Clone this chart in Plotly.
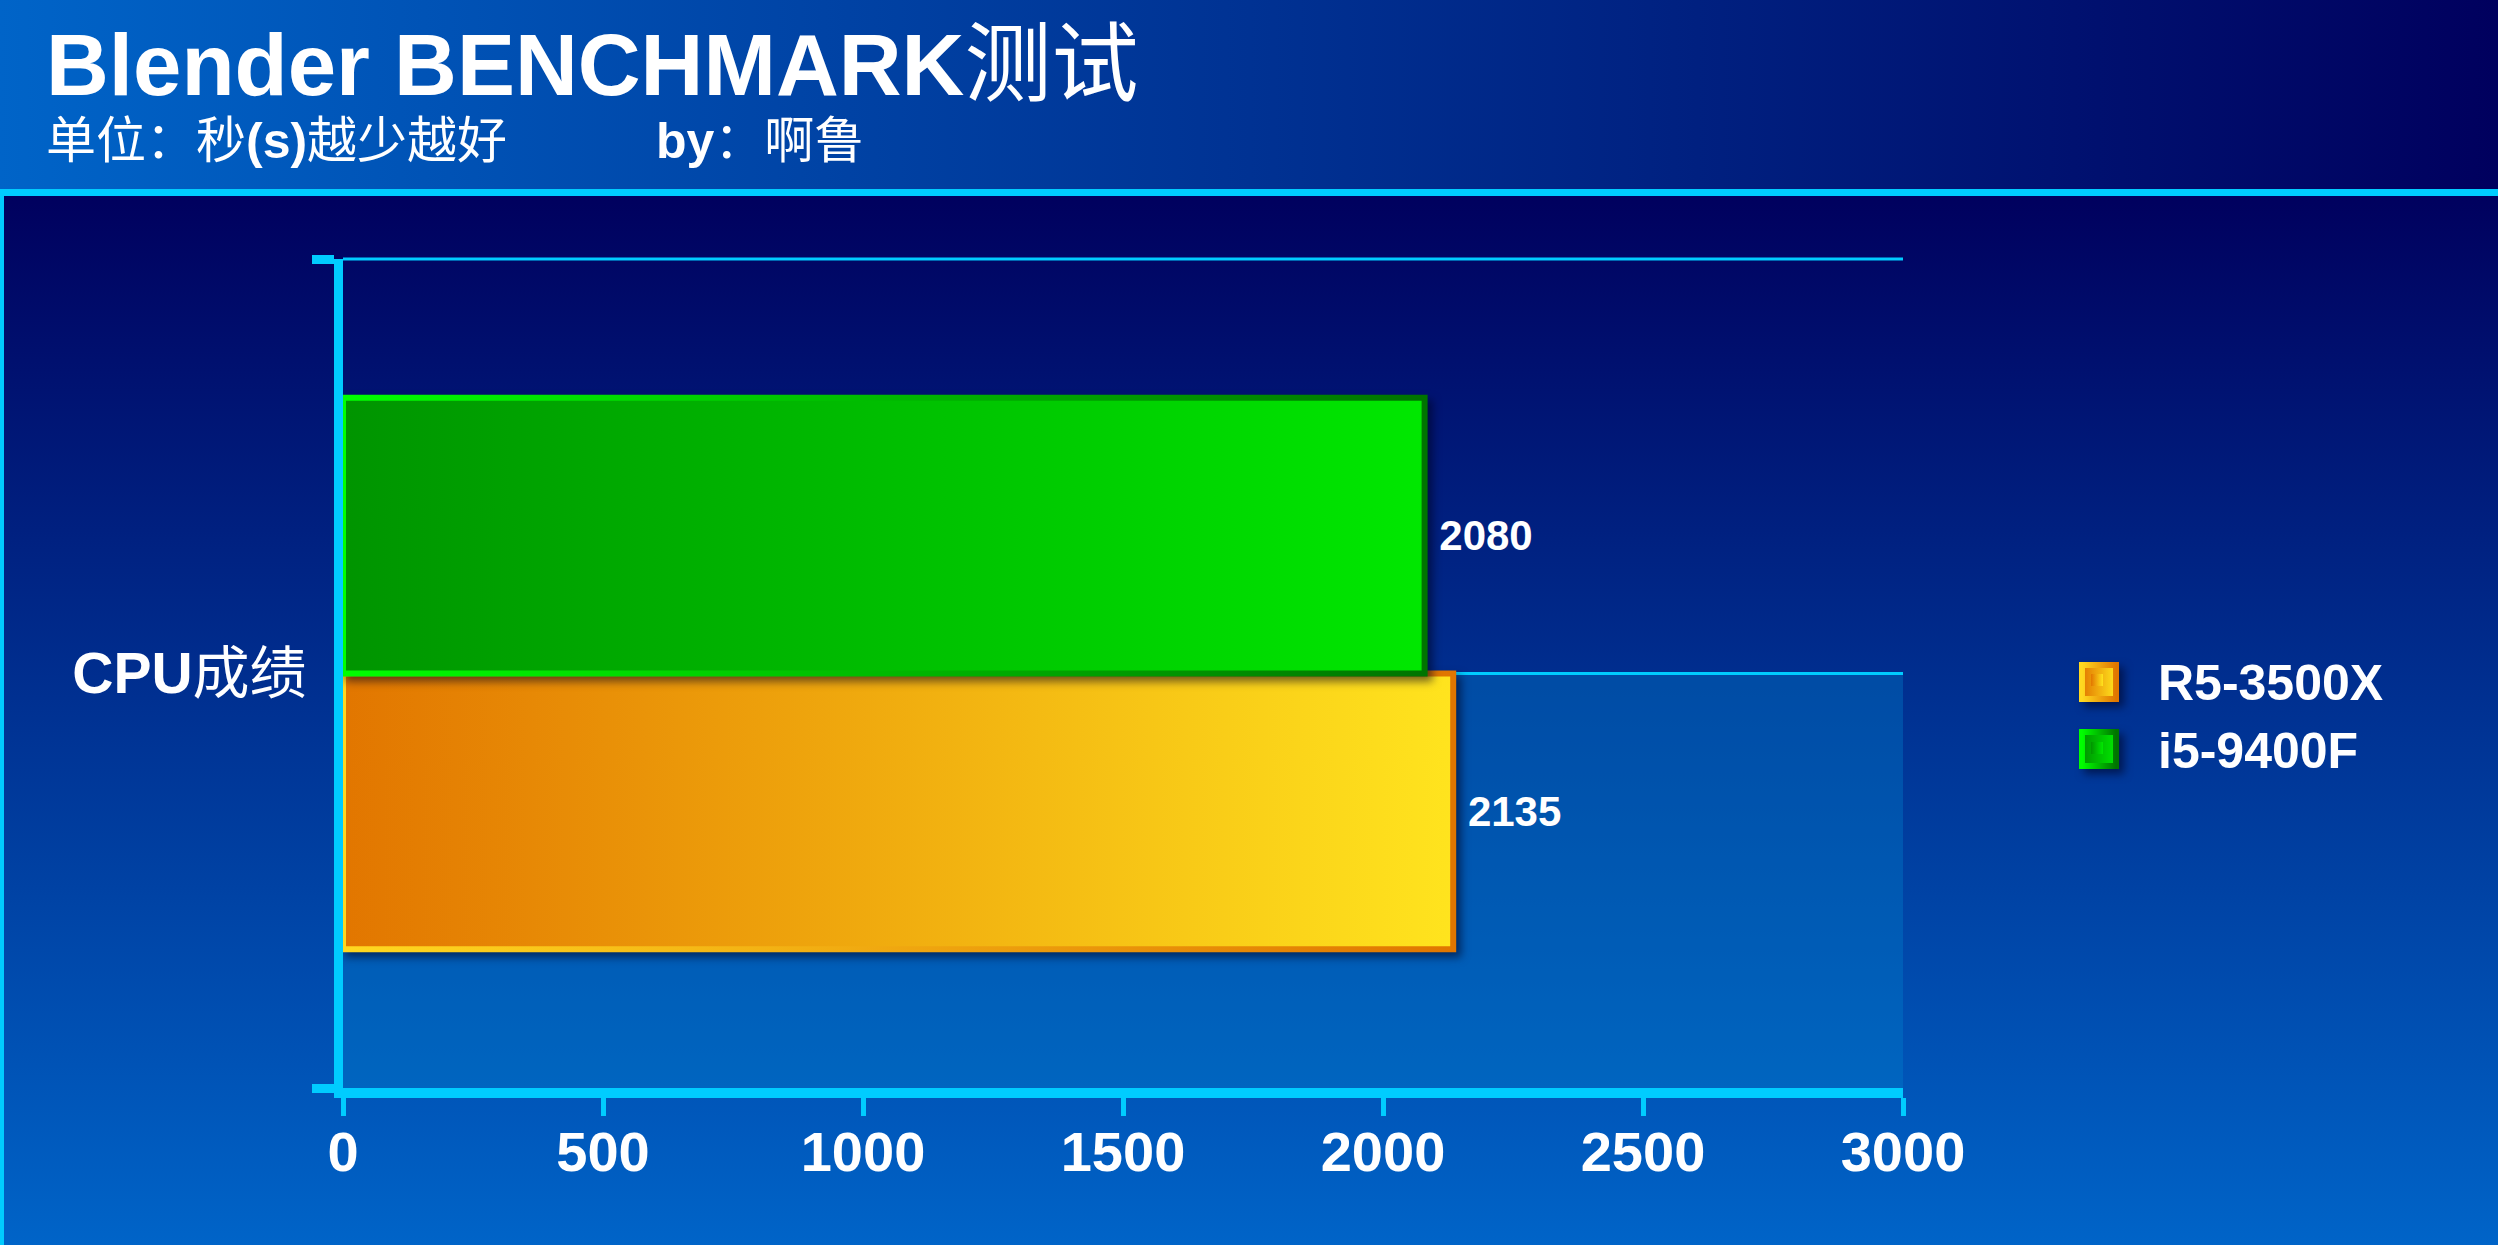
import base64
import json
import plotly.graph_objects as go

# ---- data ----
categories = ["CPU成绩"]
category_labels = ["<b>CPU</b>成绩"]
series_names = ["R5-3500X", "i5-9400F"]
r5_values = [2135]
i5_values = [2080]
x_tick_values = [0, 500, 1000, 1500, 2000, 2500, 3000]

W, H = 2498, 1245
FONT = "Liberation Sans, Arial, Noto Sans CJK SC, sans-serif"
CYAN = "#00CCFF"

# colours: fill gradient (left -> right) and border gradient (left -> right)
R5_FILL, R5_LINE = "#F2AE12", "#F0A010"
I5_FILL, I5_LINE = "#00BC00", "#00C000"
GRADS = {
    "bf0": ["#E27600", "#FFE41E"], "bs0": ["#FFD820", "#E07600"],
    "bf1": ["#009400", "#00E800"], "bs1": ["#00FF00", "#007400"],
}

bg_svg = f'''<svg xmlns="http://www.w3.org/2000/svg" width="{W}" height="{H}" viewBox="0 0 {W} {H}" preserveAspectRatio="none">
<defs>
<linearGradient id="h" x1="0" y1="0" x2="1" y2="0"><stop offset="0" stop-color="#0064C8"/><stop offset="1" stop-color="#00005E"/></linearGradient>
<linearGradient id="v" x1="0" y1="0" x2="0" y2="1"><stop offset="0" stop-color="#00005E"/><stop offset="1" stop-color="#0064C8"/></linearGradient>
</defs>
<rect x="0" y="0" width="{W}" height="192" fill="url(#h)"/>
<rect x="0" y="192" width="{W}" height="{H-192}" fill="url(#v)"/>
</svg>'''
bg_src = "data:image/svg+xml;base64," + base64.b64encode(bg_svg.encode()).decode()

LABEL_FONT = dict(family=FONT, size=42, color="white", weight="bold")

fig = go.Figure()
fig.add_trace(go.Bar(
    name=series_names[0], y=categories, x=r5_values, orientation="h",
    marker=dict(color=R5_FILL, line=dict(color=R5_LINE, width=6)),
    texttemplate="\u00a0%{x}", textposition="outside", cliponaxis=False,
    textfont=LABEL_FONT,
))
fig.add_trace(go.Bar(
    name=series_names[1], y=categories, x=i5_values, orientation="h",
    marker=dict(color=I5_FILL, line=dict(color=I5_LINE, width=6)),
    texttemplate="\u00a0%{x}", textposition="outside", cliponaxis=False,
    textfont=LABEL_FONT,
))

# enlarged legend swatches, sitting behind the legend symbols
LEG_X = 2036
ITEMW = 112
sym_cx = LEG_X + 7 + ITEMW / 2
rows_y = [682, 749]
swatches = []
for cy, fill, line in zip(rows_y, [R5_FILL, I5_FILL], [R5_LINE, I5_LINE]):
    swatches.append(dict(
        type="rect", xref="paper", yref="paper",
        x0=(sym_cx - 17) / W, x1=(sym_cx + 17) / W,
        y0=(H - cy - 17) / H, y1=(H - cy + 17) / H,
        fillcolor=fill, line=dict(color=line, width=6), layer="above"))

fig.update_layout(
    template="none",
    width=W, height=H, autosize=False,
    margin=dict(l=0, r=0, t=0, b=0, pad=0, autoexpand=False),
    paper_bgcolor="#002070", plot_bgcolor="rgba(0,0,0,0)",
    barmode="group", bargap=0.335, bargroupgap=0,
    hovermode=False,
    font=dict(family=FONT, color="white"),
    images=[dict(source=bg_src, xref="paper", yref="paper", x=0, y=1,
                 sizex=1, sizey=1, xanchor="left", yanchor="top",
                 sizing="stretch", layer="below")],
    xaxis=dict(
        domain=[343 / W, 1903 / W], range=[0, 3000], automargin=False,
        tickmode="array", tickvals=x_tick_values,
        showgrid=False, zeroline=False,
        showline=True, linecolor=CYAN, linewidth=10,
        ticks="outside", ticklen=18, tickwidth=5, tickcolor=CYAN,
        tickfont=dict(family=FONT, size=56, color="white", weight="bold"),
        ticklabelstandoff=-12,
    ),
    yaxis=dict(
        domain=[157 / H, 986 / H], range=[-0.5, 0.5], type="category",
        automargin=False,
        tickmode="array", tickvals=categories, ticktext=category_labels,
        tickson="boundaries",
        showgrid=True, gridcolor=CYAN, gridwidth=3,
        zeroline=False,
        showline=True, linecolor=CYAN, linewidth=9,
        ticks="outside", ticklen=22, tickwidth=9, tickcolor=CYAN,
        tickfont=dict(family=FONT, size=57, color="white"),
        ticklabelstandoff=16,
    ),
    legend=dict(
        x=LEG_X / W, xanchor="left", y=(H - 641) / H, yanchor="top",
        traceorder="normal", bgcolor="rgba(0,0,0,0)", borderwidth=0,
        font=dict(family=FONT, size=50, color="white", weight="bold"),
        itemwidth=ITEMW,
    ),
    shapes=[
        dict(type="rect", xref="x domain", yref="y domain", x0=0, x1=1, y0=0, y1=0.5,
             fillcolor="rgba(0,132,205,0.35)", line=dict(width=0), layer="below"),
        dict(type="line", xref="x domain", yref="y domain", x0=0, x1=1, y0=0.5, y1=0.5,
             line=dict(color=CYAN, width=3), layer="below"),
        dict(type="line", xref="x domain", yref="y domain", x0=0, x1=1, y0=1, y1=1,
             line=dict(color=CYAN, width=3), layer="below"),
        dict(type="rect", xref="paper", yref="paper", x0=0, x1=1,
             y0=(H - 196) / H, y1=(H - 189) / H, fillcolor=CYAN, line=dict(width=0)),
        dict(type="rect", xref="paper", yref="paper", x0=0, x1=4 / W,
             y0=0, y1=(H - 189) / H, fillcolor=CYAN, line=dict(width=0)),
    ] + swatches,
    annotations=[
        dict(text="<b>Blender BENCHMARK</b>测试", xref="paper", yref="paper",
             x=44 / W, y=(H - 65) / H, xanchor="left", yanchor="middle",
             showarrow=False, font=dict(family=FONT, size=87, color="white")),
        dict(text="单位：秒<b>(s)</b>越少越好", xref="paper", yref="paper",
             x=44 / W, y=(H - 141) / H, xanchor="left", yanchor="middle",
             showarrow=False, font=dict(family=FONT, size=50, color="white")),
        dict(text="<b>by</b>：啊鲁", xref="paper", yref="paper",
             x=654 / W, y=(H - 141) / H, xanchor="left", yanchor="middle",
             showarrow=False, font=dict(family=FONT, size=50, color="white")),
    ],
)

post_js = """
document.body.style.margin = '0';
var GR = %s;
var gd = document.getElementsByClassName('plotly-graph-div')[0];
var svg = gd.querySelector('svg.main-svg');
var NS = 'http://www.w3.org/2000/svg';
var defs = svg.querySelector('defs');
if (!defs) { defs = document.createElementNS(NS, 'defs'); svg.insertBefore(defs, svg.firstChild); }
Object.keys(GR).forEach(function (id) {
  var g = document.createElementNS(NS, 'linearGradient');
  g.setAttribute('id', id); g.setAttribute('x1', '0'); g.setAttribute('y1', '0');
  g.setAttribute('x2', '1'); g.setAttribute('y2', '0');
  GR[id].forEach(function (c, k) {
    var s = document.createElementNS(NS, 'stop');
    s.setAttribute('offset', String(k / (GR[id].length - 1)));
    s.setAttribute('stop-color', c);
    g.appendChild(s);
  });
  defs.appendChild(g);
});
var SH = 'drop-shadow(5px 5px 4px rgba(0,0,30,0.55))';
gd.querySelectorAll('.barlayer .trace').forEach(function (t, i) {
  t.querySelectorAll('.point path').forEach(function (p) {
    p.style.fill = 'url(#bf' + i + ')';
    p.style.stroke = 'url(#bs' + i + ')';
    p.style.filter = SH;
  });
});
var sw = gd.querySelectorAll('.layer-above .shapelayer path');
for (var k = 0; k < 2; k++) {
  var p = sw[sw.length - 2 + k];
  if (p) { p.style.fill = 'url(#bf' + k + ')'; p.style.stroke = 'url(#bs' + k + ')'; p.style.filter = SH; }
}
gd.querySelectorAll('.legend .traces').forEach(function (t, i) {
  t.querySelectorAll('.legendpoints path').forEach(function (p) {
    p.style.fill = 'url(#bf' + i + ')';
    p.style.stroke = 'none';
  });
});
""" % json.dumps(GRADS)

fig.write_html("out.html", post_script=post_js,
               config={"displayModeBar": False, "staticPlot": True})
